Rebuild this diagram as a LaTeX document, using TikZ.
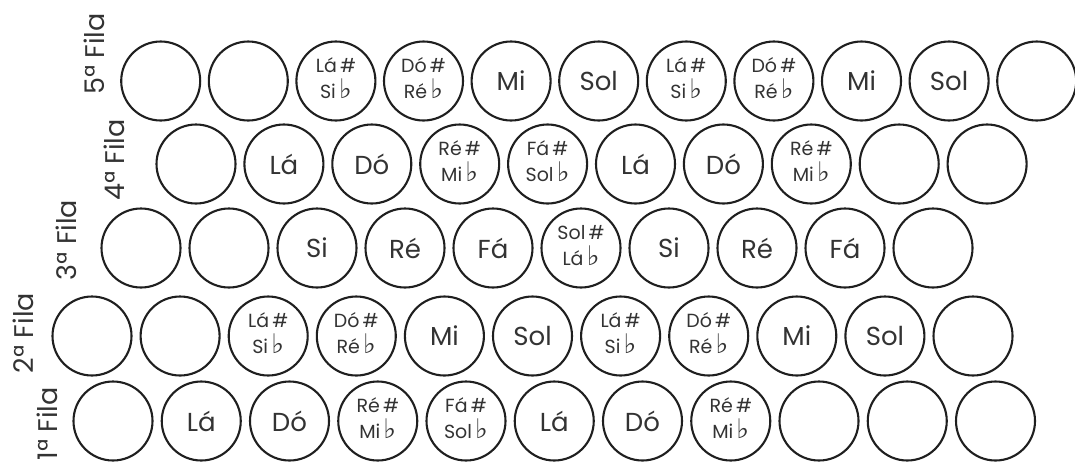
\documentclass[tikz,border=0pt]{standalone}
\usepackage{fontspec}
\setmainfont{Poppins}
\newfontfamily\flatfont{DejaVu Sans}
\newcommand\fl{{\flatfont\fontsize{27}{27}\selectfont ♭}}
\newcommand\dual[2]{{\fontsize{19}{23}\selectfont\begin{tabular}{@{}c@{}}#1\\[-1pt]#2\end{tabular}}}
\begin{document}
\begin{tikzpicture}[x=1pt,y=-1pt,
  key/.style={circle,draw=black!88,line width=2.1pt,minimum size=79pt,inner sep=0pt,
    text=black!80,font=\fontsize{26}{30}\selectfont},
  rowlab/.style={rotate=90,text=black!80,font=\fontsize{27}{30}\selectfont}]
\useasboundingbox[fill=white] (0,0) rectangle (1075,464);
% Row 5
\foreach \t [count=\i from 0] in {{},{},\dual{Lá\,\#}{Si\,\fl},\dual{Dó\,\#}{Ré\,\fl},Mi,Sol,\dual{Lá\,\#}{Si\,\fl},\dual{Dó\,\#}{Ré\,\fl},Mi,Sol,{}}
  \node[key] (r5c\i) at (160.7+87.6*\i,81) {\t};
% Row 4
\foreach \t [count=\i from 0] in {{},Lá,Dó,\dual{Ré\,\#}{Mi\,\fl},\dual{Fá\,\#}{Sol\,\fl},Lá,Dó,\dual{Ré\,\#}{Mi\,\fl},{},{}}
  \node[key] (r4c\i) at (196+87.9*\i,164) {\t};
% Row 3
\foreach \t [count=\i from 0] in {{},{},Si,Ré,Fá,\dual{Sol\,\#}{Lá\,\fl},Si,Ré,Fá,{}}
  \node[key] (r3c\i) at (141+88*\i,248) {\t};
% Row 2
\foreach \t [count=\i from 0] in {{},{},\dual{Lá\,\#}{Si\,\fl},\dual{Dó\,\#}{Ré\,\fl},Mi,Sol,\dual{Lá\,\#}{Si\,\fl},\dual{Dó\,\#}{Ré\,\fl},Mi,Sol,{}}
  \node[key] (r2c\i) at (92+88.1*\i,336) {\t};
% Row 1
\foreach \t [count=\i from 0] in {{},Lá,Dó,\dual{Ré\,\#}{Mi\,\fl},\dual{Fá\,\#}{Sol\,\fl},Lá,Dó,\dual{Ré\,\#}{Mi\,\fl},{},{},{}}
  \node[key] (r1c\i) at (113+88.25*\i,421) {\t};
% Row labels
\node[rowlab] (l5) at (94,54) {5ª Fila};
\node[rowlab] (l4) at (114.5,160) {4ª Fila};
\node[rowlab] (l3) at (66,240) {3ª Fila};
\node[rowlab] (l2) at (23,333) {2ª Fila};
\node[rowlab] (l1) at (47,424) {1ª Fila};
\end{tikzpicture}
\end{document}
